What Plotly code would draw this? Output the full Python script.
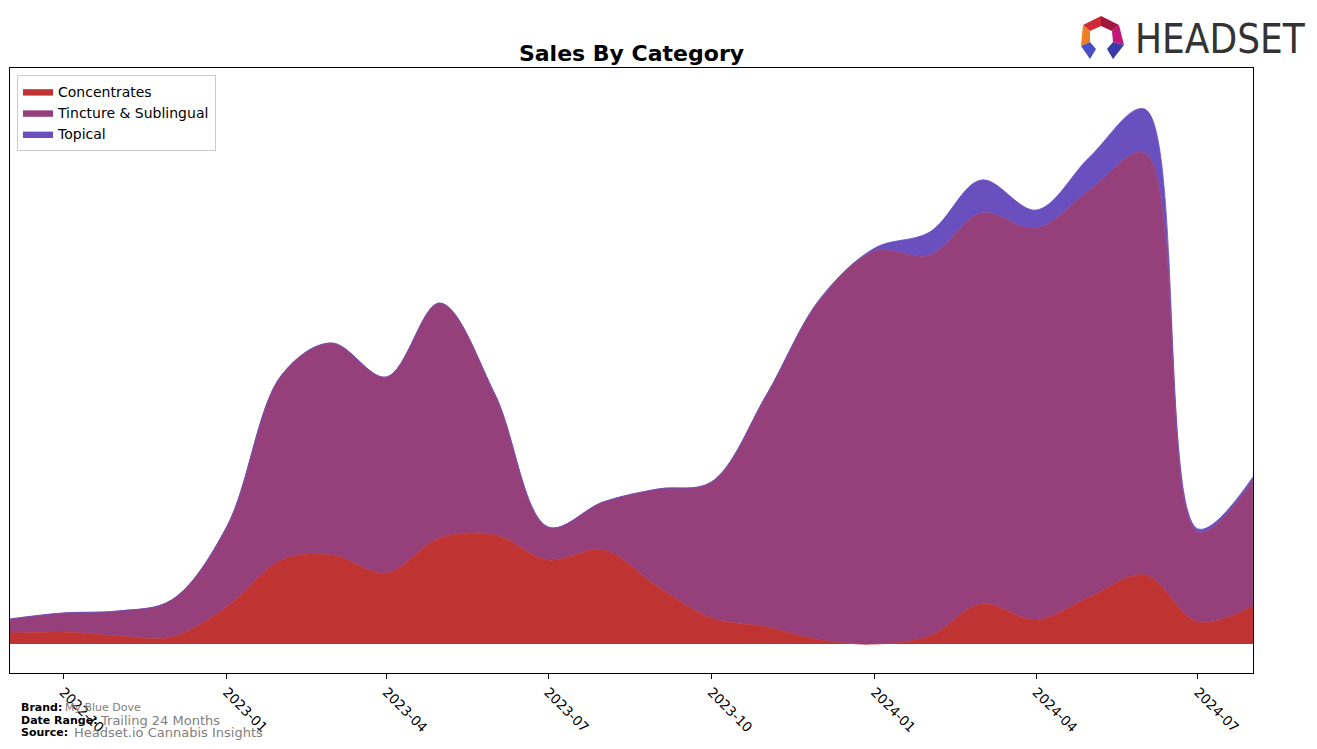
import plotly.graph_objects as go

# ---- data (monthly sales, arbitrary units) ----
months = ["2022-09-01", "2022-10-01", "2022-11-01", "2022-12-01",
          "2023-01-01", "2023-02-01", "2023-03-01", "2023-04-01",
          "2023-05-01", "2023-06-01", "2023-07-01", "2023-08-01",
          "2023-09-01", "2023-10-01", "2023-11-01", "2023-12-01",
          "2024-01-01", "2024-02-01", "2024-03-01", "2024-04-01",
          "2024-05-01", "2024-06-01", "2024-07-01", "2024-08-01"]

concentrates = [11, 12, 8, 7, 37, 84, 89, 71, 106, 109, 84, 94,
                57, 26, 17, 4, 0, 8, 40, 24, 47, 69, 22, 38]
tincture = [14, 19, 25, 37, 80, 185, 212, 196, 235, 141, 33, 48,
            98, 136, 232, 340, 393, 381, 391, 392, 407, 422, 90, 126]
topical = [0, 0, 0, 0, 0, 0, 0, 0, 0, 0, 0, 0,
           0, 0, 0, 1, 3, 23, 33, 18, 33, 44, 3, 3]

tick_vals = ["2022-10-01", "2023-01-01", "2023-04-01", "2023-07-01",
             "2023-10-01", "2024-01-01", "2024-04-01", "2024-07-01"]
tick_text = ["2022-10", "2023-01", "2023-04", "2023-07",
             "2023-10", "2024-01", "2024-04", "2024-07"]

series = [("Concentrates", concentrates, "#c03333"),
          ("Tincture & Sublingual", tincture, "#95407a"),
          ("Topical", topical, "#6a4fbf")]

W, H = 1317, 749
L, R, T, B = 10, 1253, 68, 673


def px(x):
    return (x - L) / (R - L)


def py(y):
    return (B - y) / (B - T)


fig = go.Figure()
for name, vals, col in series:
    fig.add_trace(go.Scatter(
        x=months, y=vals, name=name, mode="lines",
        stackgroup="one",
        line=dict(shape="spline", smoothing=1.0, width=0.8, color=col),
        fillcolor=col,
    ))

fig.update_layout(
    width=W, height=H,
    margin=dict(l=L, r=W - R, t=T, b=H - B),
    paper_bgcolor="white", plot_bgcolor="white",
    font=dict(family="DejaVu Sans", size=14, color="black"),
    title=dict(text="<b>Sales By Category</b>", x=0.5, xref="paper",
               y=1 - 53 / H, yref="container", yanchor="middle",
               xanchor="center",
               font=dict(family="DejaVu Sans", size=22, color="black")),
    showlegend=True,
    legend=dict(x=px(17), y=py(75), xanchor="left", yanchor="top",
                bgcolor="rgba(255,255,255,0.8)", bordercolor="#cccccc",
                borderwidth=1, traceorder="normal",
                font=dict(family="DejaVu Sans", size=14, color="black")),
    xaxis=dict(range=["2022-09-01", "2024-08-01"], tickvals=tick_vals,
               ticktext=tick_text, tickangle=45, ticks="outside",
               ticklen=5, tickcolor="black", showgrid=False,
               zeroline=False, showline=True, linecolor="black",
               linewidth=1, mirror=True,
               tickfont=dict(family="DejaVu Sans", size=13.5, color="black")),
    yaxis=dict(range=[-29, 576], showticklabels=False, ticks="",
               showgrid=False, zeroline=False, showline=True,
               linecolor="black", linewidth=1, mirror=True),
)

# footer text
footer = [(707, "Brand:", 63, "My Blue Dove", 11),
          (720, "Date Range:", 98, "Trailing 24 Months", 13),
          (732, "Source:", 72, "Headset.io Cannabis Insights", 13)]
for yy, lab, xv, val, fs in footer:
    fig.add_annotation(x=px(19), y=py(yy), xref="paper", yref="paper",
                       text="<b>" + lab + "</b>", showarrow=False,
                       xanchor="left", yanchor="middle",
                       font=dict(family="DejaVu Sans", size=11, color="black"))
    fig.add_annotation(x=px(xv), y=py(yy), xref="paper", yref="paper",
                       text=val, showarrow=False,
                       xanchor="left", yanchor="middle",
                       font=dict(family="DejaVu Sans", size=fs, color="#808080"))

# logo
fig.add_annotation(x=px(1133), y=py(39), xref="paper", yref="paper",
                   text="HEADSET", showarrow=False, xanchor="left",
                   yanchor="middle",
                   font=dict(family="DejaVu Sans Condensed, Roboto, sans-serif",
                             size=40, color="#333333"))

logo_polys = [
    ([(1083, 25), (1101, 16), (1101, 26), (1090, 31)], "#d02a3a"),
    ([(1101, 16), (1119, 25), (1112, 31), (1101, 26)], "#a3173f"),
    ([(1083, 25), (1090, 31), (1090, 42), (1081, 46)], "#f07d22"),
    ([(1119, 25), (1124, 45), (1113, 42), (1112, 31)], "#c2187a"),
    ([(1081, 46), (1090, 42), (1096, 49), (1090, 59)], "#4b4fc4"),
    ([(1124, 45), (1113, 42), (1107, 49), (1113, 59)], "#3a3aa8"),
]
for pts, col in logo_polys:
    path = "M " + " L ".join(f"{px(x):.5f},{py(y):.5f}" for x, y in pts) + " Z"
    fig.add_shape(type="path", path=path, xref="paper", yref="paper",
                  fillcolor=col, line=dict(width=0))

fig.write_html("out.html")
